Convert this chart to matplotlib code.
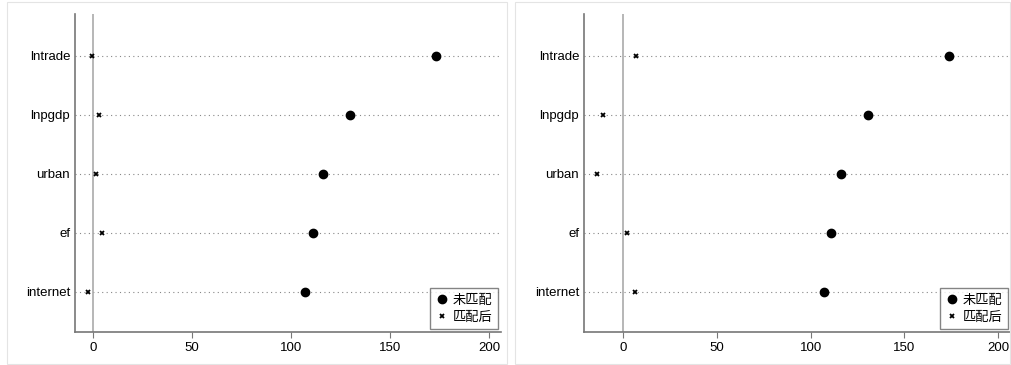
import matplotlib
matplotlib.use("Agg")
import matplotlib.pyplot as plt
from matplotlib.patches import Rectangle

plt.rcParams['font.family'] = ['Liberation Sans', 'Noto Sans CJK SC', 'DejaVu Sans']

# data
variables = ["lntrade", "lnpgdp", "urban", "ef", "internet"]
unmatched_left = [173, 130, 116, 111, 107]
matched_left = [-0.5, 3, 1.3, 4.5, -2.5]
unmatched_right = [174, 130.5, 116, 111, 107]
matched_right = [6.6, -10.7, -14, 2, 6]
xticks = [0, 50, 100, 150, 200]

W, H = 1011, 365
fig = plt.figure(figsize=(W / 100, H / 100), dpi=100)

# panel frames
for x0, x1 in [(7, 507), (515, 1010)]:
    fig.patches.append(Rectangle((x0 / W, 1 / H), (x1 - x0) / W, (H - 3) / H,
                                 transform=fig.transFigure, fill=False,
                                 edgecolor="#e4e4e4", lw=0.8))


def panel(rect, unmatched, matched, xlim):
    ax = fig.add_axes(rect)
    ypos = list(range(len(variables), 0, -1))
    for y in ypos:
        ax.axhline(y, color="#888888", lw=0.8, ls=(0, (1, 3)), zorder=1)
    ax.axvline(0, color="#aaaaaa", lw=1.2, zorder=1)
    ax.plot(unmatched, ypos, "o", color="black", ms=6, ls="none",
            label="未匹配", zorder=3)
    ax.plot(matched, ypos, "x", color="black", ms=3.5, mew=1.3, ls="none",
            label="匹配后", zorder=3)
    ax.set_xlim(*xlim)
    ax.set_ylim(0.32, 5.71)
    ax.set_yticks(ypos)
    ax.set_yticklabels(variables, fontsize=9.5)
    ax.set_xticks(xticks)
    ax.tick_params(axis="x", labelsize=9.5, length=4, color="#777777", pad=3)
    ax.tick_params(axis="y", length=0, pad=3.5)
    for s in ["top", "right"]:
        ax.spines[s].set_visible(False)
    for s in ["left", "bottom"]:
        ax.spines[s].set_color("#777777")
        ax.spines[s].set_linewidth(1.2)
    leg = ax.legend(loc="lower right", frameon=True, fancybox=False,
                    borderpad=0.4, handletextpad=0.3, handlelength=1.0,
                    labelspacing=0.3, borderaxespad=0.25,
                    prop={"family": ["Noto Sans CJK SC"], "size": 9.5})
    leg.get_frame().set_edgecolor("#666666")
    leg.get_frame().set_linewidth(1.0)
    return ax


panel([75 / W, 33 / H, (501 - 75) / W, (351 - 33) / H],
      unmatched_left, matched_left, (-9.1, 206))
panel([584 / W, 33 / H, (1011 - 584) / W, (351 - 33) / H],
      unmatched_right, matched_right, (-21, 207))

fig.savefig("out.png", dpi=100)
